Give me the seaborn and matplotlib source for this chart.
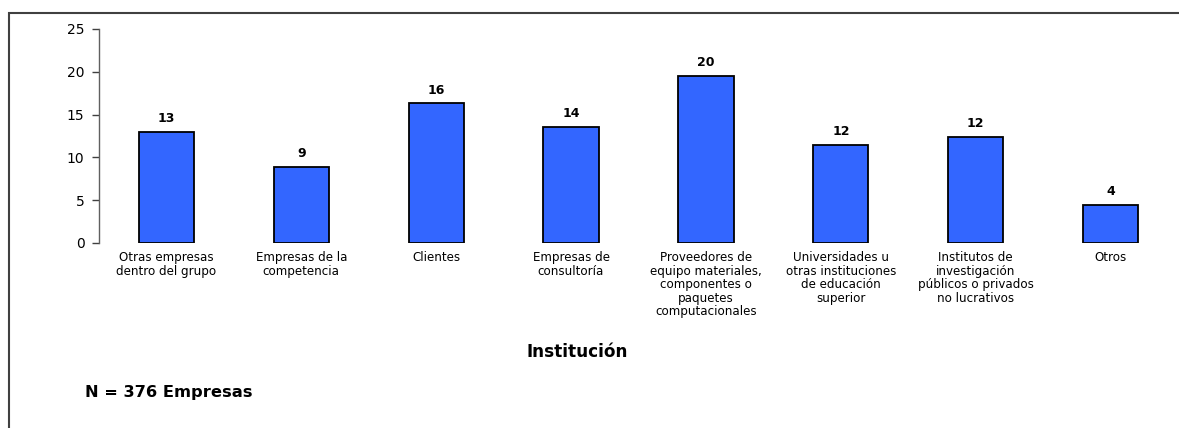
import matplotlib
matplotlib.use("Agg")
import matplotlib.pyplot as plt
import seaborn as sns
import pandas as pd
from matplotlib.patches import Rectangle

categories = [
    "Otras empresas\ndentro del grupo",
    "Empresas de la\ncompetencia",
    "Clientes",
    "Empresas de\nconsultoría",
    "Proveedores de\nequipo materiales,\ncomponentes o\npaquetes\ncomputacionales",
    "Universidades u\notras instituciones\nde educación\nsuperior",
    "Institutos de\ninvestigación\npúblicos o privados\nno lucrativos",
    "Otros",
]
values = [13.0, 8.9, 16.3, 13.6, 19.5, 11.5, 12.4, 4.4]
value_labels = ["13", "9", "16", "14", "20", "12", "12", "4"]
yticks = [0, 5, 10, 15, 20, 25]

sns.set_style("white")
plt.rcParams["font.family"] = ["DejaVu Sans"]
plt.rcParams["text.color"] = "black"
plt.rcParams["axes.labelcolor"] = "black"
plt.rcParams["xtick.color"] = "black"
plt.rcParams["ytick.color"] = "black"

W, H = 1179, 428
fig = plt.figure(figsize=(W / 100, H / 100), dpi=100)
ax = fig.add_axes([99 / W, (H - 243) / H, (1178 - 99) / W, (243 - 29) / H])

df = pd.DataFrame({"cat": categories, "val": values})
sns.barplot(data=df, x="cat", y="val", color="#3366FF", saturation=1,
            width=0.41, edgecolor="black", linewidth=1.3, ax=ax)

ax.set_xlim(-0.5, 7.5)
ax.set_ylim(0, 25)
ax.set_yticks(yticks)
ax.set_yticklabels([str(t) for t in yticks], fontsize=10)
ax.tick_params(axis="y", length=5, width=1, color="#404040", pad=5.5, left=True)
ax.tick_params(axis="x", length=0, pad=6, labelsize=8.6)
for lbl in ax.get_xticklabels():
    lbl.set_linespacing(1.05)
    lbl.set_verticalalignment("top")

for s in ["top", "right", "bottom"]:
    ax.spines[s].set_visible(False)
ax.spines["left"].set_color("#606060")
ax.spines["left"].set_linewidth(1)

ax.bar_label(ax.containers[0], labels=value_labels, padding=5,
             fontsize=9, fontweight="bold")

ax.set_ylabel("")
ax.set_xlabel("Institución", fontsize=12.2, fontweight="bold")
ax.xaxis.set_label_coords((577 - 99) / (1178 - 99), (243 - 352) / (243 - 29))
ax.xaxis.label.set_verticalalignment("center")

fig.text(85 / W, 1 - 393 / H, "N = 376 Empresas", fontsize=11.7,
         fontweight="bold", ha="left", va="center")

fig.patches.append(Rectangle((9 / W, -0.05), 1.2, 1 - 13.5 / H + 0.05,
                             transform=fig.transFigure, fill=False,
                             edgecolor="#404040", linewidth=1.5))

fig.savefig("out.png", dpi=100)
